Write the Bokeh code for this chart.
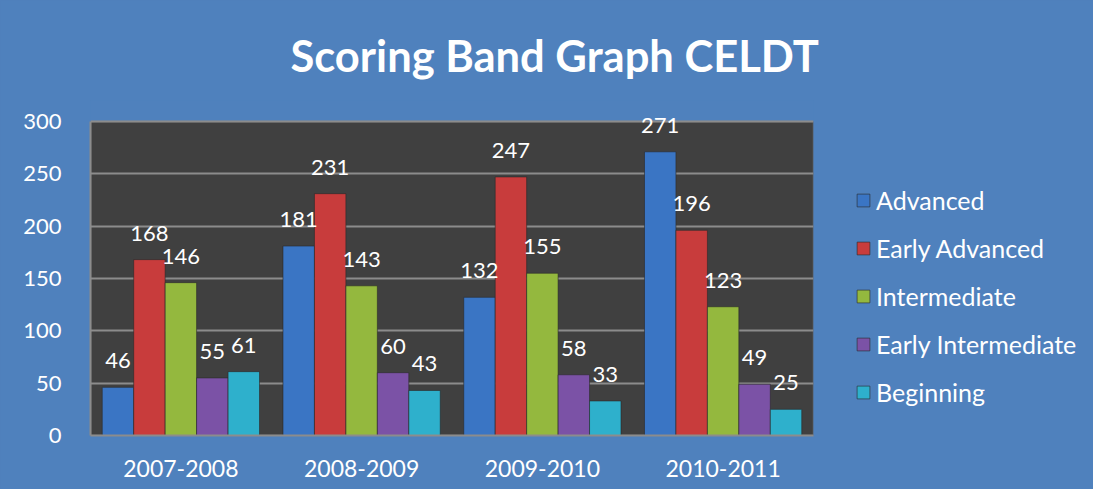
from bokeh.plotting import figure
from bokeh.models import ColumnDataSource, LabelSet, Legend, LegendItem, FactorRange, BoxAnnotation
from bokeh.transform import dodge
from bokeh.core.properties import value
from bokeh.embed import file_html
from bokeh.resources import INLINE

years = ["2007-2008", "2008-2009", "2009-2010", "2010-2011"]
series = ["Advanced", "Early Advanced", "Intermediate", "Early Intermediate", "Beginning"]
advanced = [46, 181, 132, 271]
early_advanced = [168, 231, 247, 196]
intermediate = [146, 143, 155, 123]
early_intermediate = [55, 60, 58, 49]
beginning = [61, 43, 33, 25]
colors = ["#3A75C4", "#C83C3C", "#94B83E", "#7B52A6", "#2EB0CC"]
yticks = [0, 50, 100, 150, 200, 250, 300]
y_axis_max = 300

values = [advanced, early_advanced, intermediate, early_intermediate, beginning]

FONT = "Lato"
BG = "#4F81BD"

p = figure(x_range=FactorRange(*years), y_range=(0, 320),
           frame_width=723, frame_height=335,
           output_backend="svg", toolbar_location=None,
           background_fill_color=BG, background_fill_alpha=1, border_fill_color=BG,
           min_border_left=90, min_border_right=272, min_border_top=100, min_border_bottom=54)
p.outline_line_color = None
p.styles = {"background-color": BG}

plot_area = BoxAnnotation(bottom=0, top=y_axis_max, fill_color="#404040", fill_alpha=1,
                          line_color="#7F7F7F", line_width=2, level="image")
p.add_layout(plot_area)

p.title.text = "Scoring Band Graph CELDT"
p.title.text_color = "white"
p.title.text_font = FONT
p.title.text_font_style = "bold"
p.title.text_font_size = "43.5px"
p.title.align = "left"
p.title.offset = 200
p.title.standoff = 39

w = 0.174
items = []
for i, (name, vals, col) in enumerate(zip(series, values, colors)):
    src = ColumnDataSource(dict(x=years, top=vals, lbl=[str(v) for v in vals]))
    off = (i - 2) * w
    r = p.vbar(x=dodge("x", off, range=p.x_range), top="top", bottom=0, width=w, source=src,
               fill_color=col, line_color="#2a2a2a", line_width=1, line_alpha=0.6)
    items.append(LegendItem(label=name, renderers=[r]))
    labels = LabelSet(x=dodge("x", off, range=p.x_range), y="top", text="lbl", source=src,
                      text_align="center", text_baseline="alphabetic", y_offset=19,
                      text_color="white", text_font=value(FONT), text_font_size="22px")
    p.add_layout(labels)

legend = Legend(items=items, location=(42, 28), orientation="vertical",
                label_text_color="white", label_text_font=FONT, label_text_font_size="25px",
                glyph_width=16, glyph_height=16, spacing=18, padding=0, margin=0,
                label_standoff=5, background_fill_alpha=0, border_line_alpha=0)
p.add_layout(legend, "right")

p.xgrid.grid_line_color = None
p.ygrid.grid_line_color = "#8C8C8C"
p.ygrid.grid_line_width = 2
p.yaxis.ticker = yticks
p.yaxis.bounds = (0, y_axis_max)
for ax in (p.xaxis, p.yaxis):
    ax.major_label_text_color = "white"
    ax.major_label_text_font = FONT
    ax.major_label_text_font_size = "22px"
    ax.axis_line_color = "#8C8C8C"
    ax.axis_line_width = 2
    ax.major_tick_line_color = None
    ax.minor_tick_line_color = None
p.xaxis.major_label_text_font_size = "23px"
p.yaxis.major_label_standoff = 23
p.xaxis.major_label_standoff = 18

open("out.html", "w").write(file_html(p, INLINE))
